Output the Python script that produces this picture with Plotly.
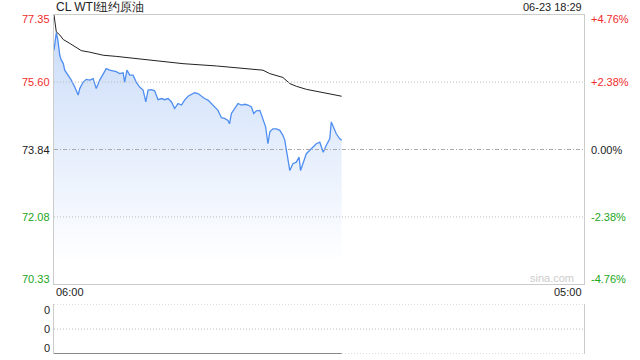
import pandas as pd
import plotly.graph_objects as go

DAY = "2023-06-23 "
NEXT = "2023-06-24 "

# price series (time, value)
price_times = ["06:00","06:06","06:10","06:15","06:19","06:24","06:28","06:37","06:45","06:54",
               "07:03","07:07","07:16","07:24","07:33","07:42","07:50","07:59","08:08","08:16",
               "08:25","08:34","08:42","08:51","09:00","09:04","09:10","09:17","09:26","09:34",
               "09:43","09:52","09:59","10:05","10:14","10:22","10:31","10:40","10:48","10:57",
               "11:06","11:14","11:23","11:32","11:40","11:49","11:58","12:06","12:15","12:24",
               "12:32","12:41","12:50","12:58","13:07","13:16","13:24","13:33","13:37","13:42",
               "13:50","13:59","14:08","14:17","14:25","14:34","14:40","14:47","14:56","15:04",
               "15:11","15:17","15:22","15:30","15:39","15:48","15:56","16:01","16:05","16:09",
               "16:14","16:22","16:31","16:38","16:42","16:48","16:57","17:06","17:14","17:23",
               "17:32","17:41","17:49","17:58","18:02","18:07","18:15","18:24","18:29"]
price_values = [76.43,76.89,76.70,76.30,76.17,76.09,75.91,75.78,75.65,75.47,
                75.26,75.43,75.60,75.67,75.65,75.69,75.43,75.65,75.82,75.95,
                75.91,75.89,75.87,75.82,75.84,75.60,75.91,75.78,75.78,75.60,
                75.47,75.39,75.08,75.39,75.40,75.37,75.14,75.17,75.14,75.17,
                75.08,74.91,75.04,75.00,75.13,75.23,75.28,75.32,75.30,75.23,
                75.17,75.13,75.04,74.95,74.86,74.67,74.65,74.60,74.51,74.78,
                74.91,75.04,75.00,75.02,75.00,74.95,74.78,74.85,74.86,74.65,
                74.43,73.99,74.30,74.38,74.38,74.34,74.21,74.08,73.82,73.64,
                73.29,73.47,73.51,73.64,73.29,73.47,73.73,73.82,73.90,73.99,
                74.03,73.77,73.95,74.12,74.56,74.43,74.25,74.12,74.08]

# average price line
avg_times = ["06:00","06:06","06:15","06:24","06:41","06:58","07:11","07:33","07:50","08:08",
             "08:42","09:26","10:01","10:53","11:36","13:03","14:30","15:04","15:22","15:56",
             "16:14","16:31","16:57","17:23","17:58","18:29"]
avg_values = [77.35,76.91,76.83,76.71,76.61,76.50,76.42,76.38,76.35,76.30,
              76.27,76.22,76.17,76.12,76.08,76.02,75.95,75.91,75.82,75.72,
              75.56,75.49,75.41,75.36,75.28,75.23]

# volume panel (all zero)
vol_times = ["06:00", "18:29"]
vol_values = [0, 0]

prev_settle = 73.84
left_ticks = [77.35, 75.60, 73.84, 72.08, 70.33]
right_ticks = ["+4.76%", "+2.38%", "0.00%", "-2.38%", "-4.76%"]
vol_ticks = [2, 1, 0]
x_start, x_end = "06:00", "05:00"
title = "CL WTI纽约原油"
stamp = "06-23 18:29"

RED, GREEN, BLACK = "#f02c2c", "#23a623", "#222222"
FONT = "Liberation Sans, Arial, sans-serif"

px_ = pd.to_datetime([DAY + t for t in price_times])
ax_ = pd.to_datetime([DAY + t for t in avg_times])
vx_ = pd.to_datetime([DAY + t for t in vol_times])
xr = [pd.Timestamp(DAY + x_start), pd.Timestamp(NEXT + x_end)]

fig = go.Figure()
fig.add_trace(go.Scatter(
    x=px_, y=price_values, mode="lines", line=dict(color="#4f8ef0", width=1.3),
    fill="tozeroy",
    fillgradient=dict(type="vertical", start=70.9, stop=77.0,
                      colorscale=[[0, "rgba(255,255,255,1)"], [1, "rgb(202,220,249)"]]),
    xaxis="x", yaxis="y", hoverinfo="skip"))
fig.add_trace(go.Scatter(x=ax_, y=avg_values, mode="lines",
                         line=dict(color="#222222", width=1), xaxis="x", yaxis="y"))
fig.add_trace(go.Scatter(x=vx_, y=vol_values, mode="lines",
                         line=dict(color="#888888", width=2), xaxis="x2", yaxis="y2"))

main_dom = [(354 - 284) / 339, 1]
vol_dom = [0, (354 - 304) / 339]

fig.update_layout(
    width=640, height=360, margin=dict(l=54, r=56, t=15, b=6),
    paper_bgcolor="white", plot_bgcolor="white", showlegend=False,
    font=dict(family=FONT, size=11, color=BLACK),
    xaxis=dict(domain=[0, 1], range=xr, showticklabels=False, showgrid=False, zeroline=False,
               showline=True, linecolor="#cccccc", mirror=True, anchor="y"),
    yaxis=dict(domain=main_dom, range=[left_ticks[-1], left_ticks[0]], showticklabels=False,
               showgrid=False, zeroline=False, showline=True, linecolor="#cccccc", mirror=True,
               anchor="x"),
    xaxis2=dict(domain=[0, 1], range=xr, showticklabels=False, showgrid=False, zeroline=False,
                showline=False, anchor="y2"),
    yaxis2=dict(domain=vol_dom, range=[0, 2], showticklabels=False, showgrid=False,
                zeroline=False, showline=True, linecolor="#cccccc", mirror=True, anchor="x2"),
)

shapes = [dict(type="line", xref="x domain", yref="y", x0=0, x1=1, y0=prev_settle, y1=prev_settle,
               line=dict(color="#aaaaaa", width=1, dash="4px,2px,1px,2px"), layer="above")]
for v in (left_ticks[1], left_ticks[3]):
    shapes.append(dict(type="line", xref="x domain", yref="y", x0=0, x1=1, y0=v, y1=v,
                       line=dict(color="#bbbbbb", width=1, dash="1px,2px"), layer="above"))
for v in vol_ticks:
    shapes.append(dict(type="line", xref="x2 domain", yref="y2", x0=0, x1=1, y0=v, y1=v,
                       line=dict(color="#bbbbbb", width=1, dash="1px,2px"), layer="below"))
fig.update_layout(shapes=shapes)

ann = []
def col(v):
    return RED if v > prev_settle else (GREEN if v < prev_settle else BLACK)
n = len(left_ticks)
for i, (v, r) in enumerate(zip(left_ticks, right_ticks)):
    ys = -4 if i == 0 else (5 if i == n - 1 else 0)
    ann.append(dict(xref="paper", yref="y", x=0, y=v, xanchor="right", yanchor="middle",
                    xshift=-2, yshift=ys, text=f"{v:.2f}", showarrow=False,
                    font=dict(color=col(v), size=11)))
    ann.append(dict(xref="paper", yref="y", x=1, y=v, xanchor="left", yanchor="middle",
                    xshift=5, yshift=ys, text=r, showarrow=False,
                    font=dict(color=col(v), size=11)))
for i, v in enumerate(vol_ticks):
    ys = -6 if i == 0 else (6 if i == len(vol_ticks) - 1 else 0)
    ann.append(dict(xref="paper", yref="y2", x=0, y=v, xanchor="right", yanchor="middle",
                    xshift=-2, yshift=ys, text="0", showarrow=False, font=dict(size=11)))
ann.append(dict(xref="paper", yref="paper", x=0, y=(354 - 292) / 339, xanchor="left",
                yanchor="middle", text=x_start, showarrow=False, font=dict(size=11)))
ann.append(dict(xref="paper", yref="paper", x=1, y=(354 - 292) / 339, xanchor="right",
                yanchor="middle", text=x_end, showarrow=False, font=dict(size=11)))
ann.append(dict(xref="paper", yref="paper", x=0, y=(354 - 7) / 339, xanchor="left",
                yanchor="middle", text=title, showarrow=False, font=dict(size=12, color=BLACK)))
ann.append(dict(xref="paper", yref="paper", x=1, y=(354 - 7) / 339, xanchor="right",
                yanchor="middle", text=stamp, showarrow=False, font=dict(size=11, color=BLACK)))
ann.append(dict(xref="paper", yref="paper", x=1, y=(354 - 278) / 339, xanchor="right",
                yanchor="middle", xshift=-8, text="sina.com", showarrow=False,
                font=dict(size=11, color="#cccccc")))
fig.update_layout(annotations=ann)

fig.write_html("out.html")
